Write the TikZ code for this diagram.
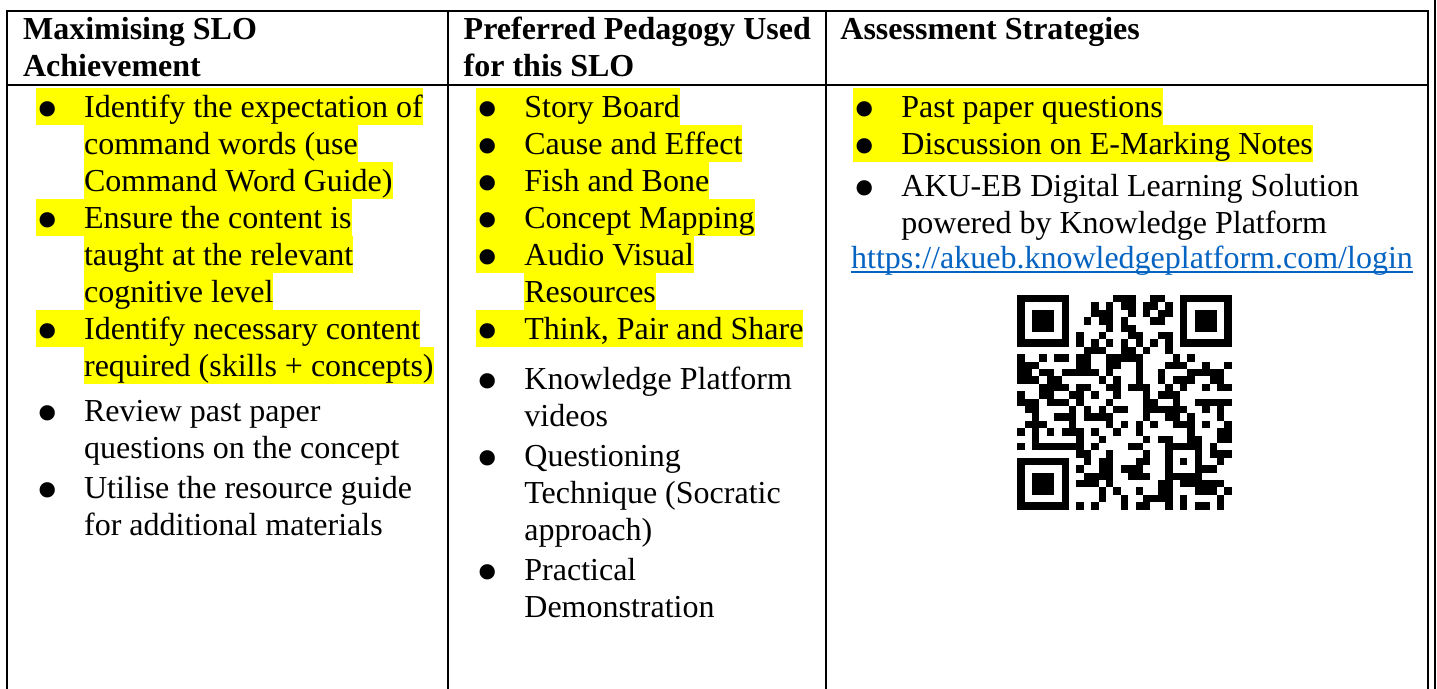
\documentclass[tikz,border=0pt]{standalone}
\usepackage{fontspec}
\setmainfont{Liberation Serif}
\usepackage{qrcode}
\definecolor{slHigh}{HTML}{FFFF00}
\definecolor{slLink}{HTML}{0563C1}
\usetikzlibrary{positioning}

\newcommand{\hlstrut}{\rule[-3.8pt]{0pt}{18.5pt}}
\newcommand{\hl}[1]{{\setlength{\fboxsep}{0pt}\colorbox{slHigh}{\hlstrut#1}}}
\newcommand{\pl}[1]{\hlstrut#1}
\newcommand{\blt}{\makebox[24pt][l]{\smash{\raisebox{-6.5pt}{\fontsize{32}{32}\selectfont\textbullet}}}}
\newcommand{\ind}{\hspace*{24pt}}

\begin{document}
\begin{tikzpicture}[x=0.5pt,y=-0.5pt,
  rule/.style={line width=1.3pt},
  cell/.style={anchor=base west, inner sep=0pt, align=flush left, text width=#1,
    font=\fontsize{16}{18.5}\selectfont},
  head/.style={cell=#1, font=\fontsize{16}{18.5}\selectfont\bfseries}]
  % page and table rules
  \fill[white] (0,0) rectangle (1437,689);
  \useasboundingbox (0,0) rectangle (1437,689);
  \draw[rule] (7,689) -- (7,11) -- (1428,11) -- (1428,689);
  \draw[rule] (7,85) -- (1428,85);
  \draw[rule] (448,11) -- (448,689);
  \draw[rule] (826,11) -- (826,689);
  \draw[rule] (1435,0) -- (1435,689);

  % header row
  \node[head=200pt] (headAch) at (22.7,40) {Maximising SLO\\Achievement};
  \node[head=180pt] (headPed) at (463.3,40) {Preferred Pedagogy Used\\for this SLO};
  \node[head=280pt] (headAss) at (840,40) {Assessment Strategies};

  % body row
  \node[cell=205pt] (bodyAch) at (35.7,117.3) {%
    \hl{\blt Identify the expectation of}\\
    \ind\hl{command words (use}\\
    \ind\hl{Command Word Guide)}\\
    \hl{\blt Ensure the content is}\\
    \ind\hl{taught at the relevant}\\
    \ind\hl{cognitive level}\\
    \hl{\blt Identify necessary content}\\
    \ind\hl{required (skills + concepts)}\\[4pt]
    \pl{\blt Review past paper}\\
    \pl{\ind questions on the concept}\\[1.5pt]
    \pl{\blt Utilise the resource guide}\\
    \pl{\ind for additional materials}};
  \node[cell=175pt] (bodyPed) at (476,117.3) {%
    \hl{\blt Story Board}\\
    \hl{\blt Cause and Effect}\\
    \hl{\blt Fish and Bone}\\
    \hl{\blt Concept Mapping}\\
    \hl{\blt Audio Visual}\\
    \ind\hl{Resources}\\
    \hl{\blt Think, Pair and Share}\\[6.5pt]
    \pl{\blt Knowledge Platform}\\
    \pl{\ind videos}\\[1.5pt]
    \pl{\blt Questioning}\\
    \pl{\ind Technique (Socratic}\\
    \pl{\ind approach)}\\[1.5pt]
    \pl{\blt Practical}\\
    \pl{\ind Demonstration}};
  \node[cell=280pt] (bodyAss) at (853,117.3) {%
    \hl{\blt Past paper questions}\\
    \hl{\blt Discussion on E-Marking Notes}\\[2.5pt]
    \pl{\blt AKU-EB Digital Learning Solution}\\
    \pl{\ind powered by Knowledge Platform}};
  \node[anchor=base, inner sep=0pt, text=slLink, font=\fontsize{16}{18.5}\selectfont]
    (akuLink) at (1132,269) {https://akueb.knowledgeplatform.com/login};
  \draw[slLink, line width=0.6pt] ([yshift=-1.5pt]akuLink.base west) -- ([yshift=-1.5pt]akuLink.base east);
  \node[anchor=north west, inner sep=0pt] (akuQR) at (1016.7,294.7)
    {\qrcode[height=107.3pt,level=M]{https://akueb.knowledgeplatform.com/login}};
\end{tikzpicture}
\end{document}
